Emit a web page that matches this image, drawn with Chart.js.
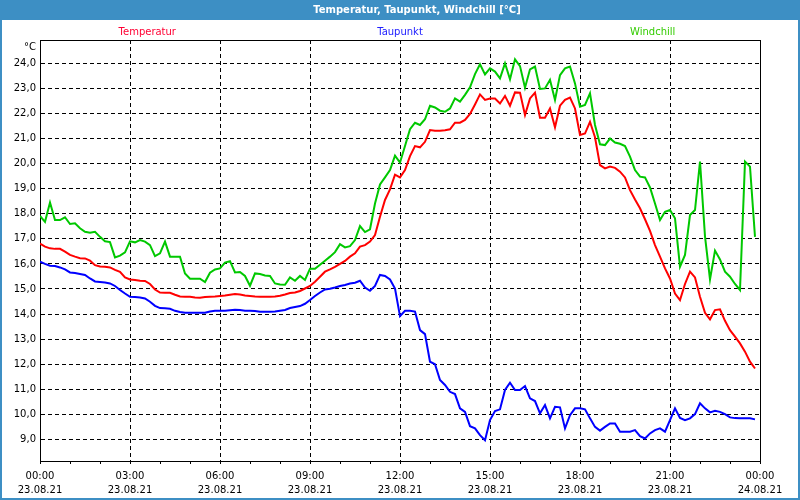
<!DOCTYPE html>
<html>
<head>
<meta charset="utf-8">
<script src="https://cdn.jsdelivr.net/npm/chart.js@4.4.0/dist/chart.umd.min.js"></script>
<style>
  html, body { margin: 0; padding: 0; background: #fff; }
  canvas { display: block; }
</style>
</head>
<body>
<canvas id="myChart" width="800" height="500"></canvas>
<script>
// Messwerte 23.08.21, alle 10 Minuten (00:00 .. 23:50)
var temperatur = [
  16.81,16.69,16.62,16.6,16.6,16.49,16.36,16.29,16.23,16.22,16.13,15.95,15.9,15.89,15.86,15.76,15.68,15.46,
  15.38,15.36,15.33,15.32,15.2,14.98,14.86,14.85,14.85,14.77,14.7,14.69,14.69,14.66,14.65,14.68,14.69,14.7,
  14.72,14.74,14.77,14.8,14.78,14.74,14.72,14.7,14.69,14.69,14.69,14.7,14.73,14.78,14.84,14.86,14.92,15.02,
  15.12,15.29,15.49,15.69,15.78,15.88,16.0,16.12,16.29,16.42,16.69,16.75,16.89,17.15,17.88,18.55,18.97,19.56,
  19.45,19.74,20.3,20.7,20.65,20.87,21.34,21.31,21.31,21.33,21.37,21.63,21.63,21.74,21.98,22.36,22.76,22.54,
  22.6,22.6,22.4,22.7,22.31,22.84,22.83,21.94,22.6,22.83,21.83,21.83,22.2,21.45,22.31,22.54,22.63,22.2,
  21.14,21.2,21.67,21.05,19.94,19.81,19.88,19.83,19.68,19.45,18.94,18.57,18.22,17.78,17.32,16.75,16.29,15.82,
  15.42,14.82,14.56,15.2,15.69,15.46,14.69,14.05,13.79,14.16,14.19,13.73,13.36,13.1,12.83,12.5,12.1,11.83
];
var taupunkt = [
  16.09,16.0,15.93,15.92,15.86,15.78,15.66,15.64,15.6,15.56,15.42,15.3,15.28,15.26,15.22,15.12,14.96,14.82,
  14.69,14.68,14.66,14.62,14.49,14.33,14.24,14.23,14.21,14.13,14.08,14.05,14.05,14.05,14.05,14.05,14.1,14.13,
  14.13,14.13,14.15,14.17,14.16,14.13,14.13,14.12,14.09,14.09,14.09,14.1,14.13,14.16,14.24,14.28,14.32,14.41,
  14.56,14.72,14.86,14.98,15.01,15.06,15.12,15.16,15.22,15.25,15.33,15.06,14.93,15.12,15.56,15.52,15.38,15.02,
  13.92,14.13,14.13,14.1,13.36,13.2,12.1,12.0,11.37,11.17,10.9,10.81,10.24,10.1,9.53,9.44,9.17,8.97,
  9.77,10.13,10.2,10.97,11.26,10.97,10.97,11.13,10.64,10.53,10.04,10.37,9.84,10.3,10.28,9.44,9.97,10.24,
  10.24,10.2,9.84,9.5,9.35,9.5,9.64,9.64,9.31,9.31,9.31,9.37,9.13,9.04,9.24,9.37,9.44,9.31,
  9.77,10.24,9.86,9.77,9.84,10.01,10.44,10.24,10.08,10.14,10.1,10.01,9.88,9.85,9.84,9.84,9.84,9.8
];
var windchill = [
  17.91,17.68,18.45,17.75,17.75,17.86,17.59,17.62,17.42,17.28,17.24,17.28,17.08,16.9,16.87,16.26,16.33,16.46,
  16.9,16.86,16.95,16.89,16.75,16.31,16.42,16.89,16.29,16.29,16.29,15.62,15.41,15.41,15.41,15.28,15.65,15.78,
  15.82,16.05,16.11,15.66,15.68,15.52,15.13,15.62,15.6,15.54,15.52,15.22,15.18,15.17,15.46,15.33,15.52,15.36,
  15.81,15.81,15.97,16.13,16.29,16.47,16.79,16.66,16.71,16.95,17.51,17.27,17.38,18.41,19.17,19.45,19.74,20.32,
  20.04,20.7,21.37,21.63,21.54,21.77,22.31,22.24,22.11,22.07,22.2,22.6,22.47,22.74,23.04,23.57,23.96,23.56,
  23.8,23.67,23.4,24.0,23.36,24.16,23.89,23.03,23.76,23.87,22.98,23.0,23.34,22.54,23.53,23.8,23.87,23.2,
  22.27,22.34,22.8,21.54,20.77,20.74,21.0,20.84,20.79,20.7,20.28,19.74,19.48,19.45,19.05,18.41,17.75,18.08,
  18.15,17.82,15.89,16.36,17.95,18.15,20.08,17.1,15.38,16.53,16.18,15.69,15.49,15.2,14.96,20.08,19.88,17.08
];

var seriesNames = ['Temperatur', 'Taupunkt', 'Windchill'];
var lineColors = ['#ff0000', '#0000ff', '#00c800'];
var nameColors = ['#ff0033', '#2020ff', '#33cc00'];
var tickTimes = ['00:00', '03:00', '06:00', '09:00', '12:00', '15:00', '18:00', '21:00', '00:00'];
var tickDates = ['23.08.21', '23.08.21', '23.08.21', '23.08.21', '23.08.21', '23.08.21', '23.08.21', '23.08.21', '24.08.21'];
var yTicks = [9, 10, 11, 12, 13, 14, 15, 16, 17, 18, 19, 20, 21, 22, 23, 24];
var titleText = 'Temperatur, Taupunkt, Windchill [°C]';

// Minuten seit Mitternacht
var minutes = [];
for (var i = 0; i < temperatur.length; i++) minutes.push(i * 10);

function toPoints(values) {
  return values.map(function(v, i) { return {x: minutes[i], y: v}; });
}

var fontFam = '"DejaVu Sans", sans-serif';

var framePlugin = {
  id: 'frame',
  beforeDraw: function(chart) {
    var ctx = chart.ctx, w = chart.width, h = chart.height, a = chart.chartArea;
    ctx.save();
    ctx.fillStyle = '#ffffff';
    ctx.fillRect(0, 0, w, h);
    ctx.fillStyle = '#3d8fc4';
    ctx.fillRect(0, 0, w, 20);
    ctx.strokeStyle = '#3d8fc4';
    ctx.lineWidth = 2;
    ctx.strokeRect(1, 1, w - 2, h - 2);
    ctx.fillStyle = '#ffffff';
    ctx.font = 'bold 10px ' + fontFam;
    ctx.textAlign = 'center';
    ctx.textBaseline = 'middle';
    ctx.fillText(titleText, 417, 10);
    // Reihennamen oben
    var cx = (a.left + a.right) / 2, step = (a.right - a.left) * 0.351;
    ctx.font = '10px ' + fontFam;
    for (var k = 0; k < seriesNames.length; k++) {
      ctx.fillStyle = nameColors[k];
      ctx.fillText(seriesNames[k], cx + (k - 1) * step, a.top - 8);
    }
    // Einheit
    ctx.fillStyle = '#000';
    ctx.textAlign = 'right';
    ctx.fillText('°C', a.left - 4, a.top + 7);
    ctx.restore();
  },
  beforeDatasetsDraw: function(chart) {
    var ctx = chart.ctx, a = chart.chartArea;
    ctx.save();
    ctx.strokeStyle = '#000';
    ctx.lineWidth = 1;
    ctx.strokeRect(Math.round(a.left) + 0.5, Math.round(a.top) + 0.5, Math.round(a.right - a.left), Math.round(a.bottom - a.top));
    ctx.restore();
  }
};

var datasets = [temperatur, taupunkt, windchill].map(function(vals, k) {
  return {
    label: seriesNames[k],
    data: toPoints(vals),
    borderColor: lineColors[k],
    backgroundColor: lineColors[k],
    borderWidth: 2,
    pointRadius: 0,
    tension: 0,
    fill: false
  };
});

var config = {
  type: 'line',
  data: { datasets: datasets },
  options: {
    responsive: false,
    animation: false,
    layout: { padding: { left: 0, right: 40, top: 40, bottom: 0 } },
    plugins: {
      legend: { display: false },
      title: { display: false },
      tooltip: { enabled: false }
    },
    scales: {
      x: {
        type: 'linear',
        min: 0,
        max: 1440,
        afterFit: function(s) { s.height = 39; },
        ticks: {
          stepSize: 60,
          autoSkip: false,
          maxRotation: 0,
          padding: 5,
          color: '#000',
          font: { family: fontFam, size: 10, lineHeight: 1.45 },
          callback: function(v) {
            if (v % 180 !== 0) return '';
            var idx = v / 180;
            return [tickTimes[idx], tickDates[idx]];
          }
        },
        grid: {
          color: function(c) { return (c.tick && c.tick.value % 180 === 0) ? '#000' : 'rgba(0,0,0,0)'; },
          tickColor: '#000',
          tickLength: 3,
          lineWidth: 1
        },
        border: { color: '#000', width: 1, dash: [4, 3] }
      },
      y: {
        min: 8.14,
        max: 24.93,
        bounds: 'data',
        afterFit: function(s) { s.width = 40; },
        afterBuildTicks: function(s) { s.ticks = yTicks.map(function(v) { return {value: v}; }); },
        ticks: {
          padding: 4,
          color: '#000',
          font: { family: fontFam, size: 10 },
          callback: function(v) { return v.toFixed(1).replace('.', ','); }
        },
        grid: { color: '#000', drawTicks: false, lineWidth: 1 },
        border: { color: '#000', width: 1, dash: [4, 3] }
      }
    }
  },
  plugins: [framePlugin]
};

var myChart = new Chart(document.getElementById('myChart'), config);
</script>
</body>
</html>
